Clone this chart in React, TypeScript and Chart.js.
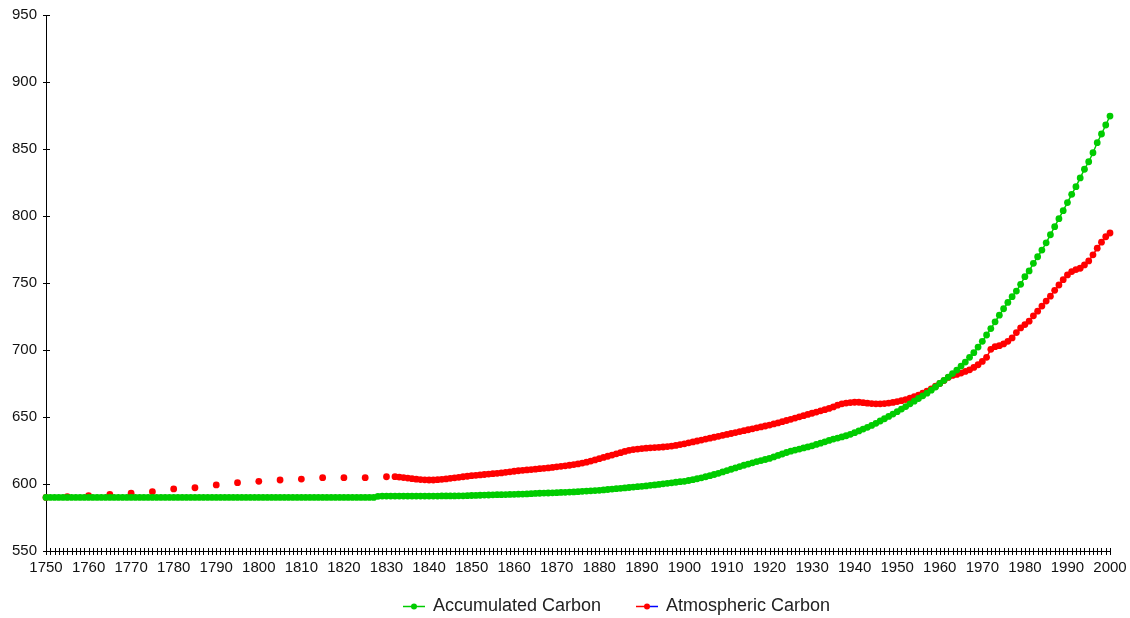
import React, { useEffect, useRef } from "react";
import { Chart, registerables } from "chart.js";

Chart.register(...registerables);

// Categories: every year 1750..2000
const firstYear = 1750;
const lastYear = 2000;
const years: string[] = [];
for (let y = firstYear; y <= lastYear; y++) years.push(String(y));

const yTicks = [550, 600, 650, 700, 750, 800, 850, 900, 950];

const seriesLabels = ["Accumulated Carbon", "Atmospheric Carbon"];

// Accumulated Carbon, yearly 1750..2000
const accumulatedCarbon: number[] = [
  590, 590, 590, 590, 590, 590, 590, 590, 590, 590, // 1750
  590, 590, 590, 590, 590, 590, 590, 590, 590, 590, // 1760
  590, 590, 590, 590, 590, 590, 590, 590, 590, 590, // 1770
  590, 590, 590, 590, 590, 590, 590, 590, 590, 590, // 1780
  590, 590, 590, 590, 590, 590, 590, 590, 590, 590, // 1790
  590, 590, 590, 590, 590, 590, 590, 590, 590, 590, // 1800
  590, 590, 590, 590, 590, 590, 590, 590, 590, 590, // 1810
  590, 590, 590, 590, 590, 590, 590, 590, 590.8, 591, // 1820
  591, 591, 591, 591, 591, 591, 591, 591, 591, 591, // 1830
  591, 591, 591, 591.1, 591.1, 591.1, 591.1, 591.2, 591.2, 591.3, // 1840
  591.4, 591.5, 591.6, 591.7, 591.8, 591.9, 592, 592, 592.1, 592.2, // 1850
  592.3, 592.4, 592.5, 592.6, 592.8, 593, 593.1, 593.2, 593.3, 593.4, // 1860
  593.5, 593.7, 593.8, 594, 594.1, 594.3, 594.5, 594.7, 594.9, 595.1, // 1870
  595.3, 595.6, 595.9, 596.2, 596.5, 596.8, 597.1, 597.4, 597.7, 598, // 1880
  598.3, 598.6, 599, 599.3, 599.7, 600.1, 600.5, 600.9, 601.3, 601.7, // 1890
  602, 602.6, 603.2, 603.9, 604.6, 605.4, 606.2, 607.1, 608, 609, // 1900
  610, 611, 612, 613, 614, 614.9, 615.8, 616.7, 617.5, 618.3, // 1910
  619.1, 620.2, 621.3, 622.4, 623.5, 624.5, 625.3, 626.1, 626.9, 627.7, // 1920
  628.5, 629.5, 630.5, 631.5, 632.5, 633.5, 634.3, 635.1, 636, 637.1, // 1930
  638.3, 639.6, 641, 642.3, 643.7, 645.3, 647, 648.7, 650.4, 652.2, // 1940
  654, 655.9, 657.8, 659.8, 661.8, 663.8, 665.8, 667.8, 670, 672.4, // 1950
  675, 677.4, 679.8, 682.4, 685, 688, 691, 694.5, 698, 702.2, // 1960
  706.5, 711.2, 716, 721, 726, 730.8, 735.5, 739.8, 744, 749, // 1970
  754.7, 759, 764.7, 769.6, 774.6, 780, 786, 792, 798, 804, // 1980
  810, 816.2, 821.9, 828.4, 834.9, 840.5, 847.2, 854.7, 861.2, 867.9, // 1990
  874.6, // 2000
];

// Atmospheric Carbon: every 5 years 1750..1830, then yearly 1832..2000
const atmosphericEarlyYears: number[] = [
  1750, 1755, 1760, 1765, 1770, 1775, 1780, 1785, 1790, 1795, 1800, 1805, 1810, 1815, 1820, 1825, 1830,
];
const atmosphericEarly: number[] = [
  590, 590.5, 591.3, 592.2, 593.1, 594.3, 596.3, 597.2, 599.3, 601, 602, 603, 603.7, 604.7, 604.7, 604.7, 605.4,
];
const atmosphericYearlyStart = 1832;
const atmosphericYearly: number[] = [
  605.5, 605.2, 604.8, 604.4, 604, 603.6, 603.3, 603.1, // 1832-1839
  603, 603, 603.2, 603.5, 603.8, 604.2, 604.6, 605, 605.4, 605.8, // 1840
  606.2, 606.5, 606.8, 607.1, 607.4, 607.7, 608, 608.3, 608.7, 609.1, // 1850
  609.5, 609.9, 610.2, 610.5, 610.8, 611.1, 611.4, 611.7, 612, 612.4, // 1860
  612.8, 613.2, 613.6, 614, 614.5, 615, 615.6, 616.3, 617.1, 618, // 1870
  618.9, 619.8, 620.7, 621.6, 622.5, 623.4, 624.3, 625.1, 625.7, 626.1, // 1880
  626.4, 626.7, 627, 627.2, 627.4, 627.6, 627.9, 628.3, 628.8, 629.4, // 1890
  630, 630.7, 631.4, 632.1, 632.8, 633.5, 634.2, 634.9, 635.6, 636.3, // 1900
  637, 637.7, 638.4, 639.1, 639.8, 640.5, 641.2, 641.9, 642.6, 643.3, // 1910
  644, 644.8, 645.6, 646.5, 647.4, 648.3, 649.2, 650.1, 651, 651.9, // 1920
  652.8, 653.7, 654.6, 655.5, 656.4, 657.5, 658.8, 659.8, 660.4, 660.8, // 1930
  661, 661, 660.7, 660.3, 660, 659.8, 659.8, 660, 660.4, 660.9, // 1940
  661.5, 662.2, 663, 664, 665.2, 666.3, 667.8, 669.3, 671, 673, // 1950
  675, 677.2, 679.5, 681, 681.8, 682.8, 684, 685.2, 687, 689, // 1960
  691.5, 694.5, 700.5, 702.5, 703.2, 704.5, 706.5, 709, 713, 716.5, // 1970
  719, 721.5, 725.5, 729, 732.8, 736.5, 740.2, 744.5, 748.5, 752.5, // 1980
  756, 758.5, 760, 761, 763.5, 766.5, 771, 776, 780.5, 784.5, // 1990
  787.3, // 2000
];

const GREEN = "#00cc00";
const RED = "#ff0000";
const FONT = "'Liberation Sans', Arial, sans-serif";

export default function App() {
  const canvasRef = useRef<HTMLCanvasElement | null>(null);

  useEffect(() => {
    document.body.style.margin = "0";
    const canvas = canvasRef.current;
    if (!canvas) return;

    const accData = accumulatedCarbon.map((v, i) => ({ x: years[i], y: v }));
    const atmData = [
      ...atmosphericEarly.map((v, i) => ({ x: String(atmosphericEarlyYears[i]), y: v })),
      ...atmosphericYearly.map((v, i) => ({ x: String(atmosphericYearlyStart + i), y: v })),
    ];

    const axesPlugin = {
      id: "crossAxes",
      beforeDatasetsDraw(chart: any) {
        const { ctx, chartArea, scales } = chart;
        const xs = scales.x;
        const ys = scales.y;
        ctx.save();
        ctx.strokeStyle = "#000";
        ctx.lineWidth = 1;
        const ax = Math.round(chartArea.left) + 0.5;
        const ay = Math.round(chartArea.bottom) + 0.5;
        ctx.beginPath();
        ctx.moveTo(ax, Math.round(chartArea.top));
        ctx.lineTo(ax, ay);
        ctx.lineTo(Math.round(chartArea.right) + 1, ay);
        ctx.stroke();
        ctx.beginPath();
        for (const t of yTicks) {
          const py = Math.round(ys.getPixelForValue(t)) + 0.5;
          ctx.moveTo(ax - 3.5, py);
          ctx.lineTo(ax + 3.5, py);
        }
        for (let i = 0; i < years.length; i++) {
          const px = Math.round(xs.getPixelForValue(i)) + 0.5;
          ctx.moveTo(px, ay - 3.5);
          ctx.lineTo(px, ay + 3.5);
        }
        ctx.stroke();
        ctx.restore();
      },
      afterDraw(chart: any) {
        const { ctx } = chart;
        const items = [
          { label: seriesLabels[0], color: GREEN, right: GREEN, x: 403 },
          { label: seriesLabels[1], color: RED, right: "#0000ff", x: 636 },
        ];
        const y = 606.5;
        ctx.save();
        for (const it of items) {
          ctx.lineWidth = 1.5;
          ctx.strokeStyle = it.color;
          ctx.beginPath();
          ctx.moveTo(it.x, y);
          ctx.lineTo(it.x + 11, y);
          ctx.stroke();
          ctx.strokeStyle = it.right;
          ctx.beginPath();
          ctx.moveTo(it.x + 11, y);
          ctx.lineTo(it.x + 22, y);
          ctx.stroke();
          ctx.fillStyle = it.color;
          ctx.beginPath();
          ctx.arc(it.x + 11, y, 3, 0, Math.PI * 2);
          ctx.fill();
          ctx.fillStyle = "#222";
          ctx.font = `18px ${FONT}`;
          ctx.textBaseline = "middle";
          ctx.textAlign = "left";
          ctx.fillText(it.label, it.x + 30, y);
        }
        ctx.restore();
      },
    };

    const chart = new Chart(canvas, {
      type: "line",
      data: {
        labels: years,
        datasets: [
          {
            label: seriesLabels[0],
            data: accData as any,
            borderColor: GREEN,
            backgroundColor: GREEN,
            pointBackgroundColor: GREEN,
            pointBorderColor: GREEN,
            pointRadius: 3.4,
            pointBorderWidth: 0,
            borderWidth: 1.5,
            tension: 0,
          },
          {
            label: seriesLabels[1],
            data: atmData as any,
            borderColor: RED,
            backgroundColor: RED,
            pointBackgroundColor: RED,
            pointBorderColor: RED,
            pointRadius: 3.4,
            pointBorderWidth: 0,
            borderWidth: 1.5,
            tension: 0,
            segment: {
              borderColor: (c: any) =>
                c.p1.parsed.x - c.p0.parsed.x > 1 ? "rgba(0,0,0,0)" : RED,
            },
          },
        ],
      },
      options: {
        animation: false,
        responsive: false,
        devicePixelRatio: 1,
        layout: { padding: { left: 0, right: 20, top: 15, bottom: 35 } },
        plugins: {
          legend: { display: false },
          tooltip: { enabled: false },
        },
        scales: {
          x: {
            type: "category",
            offset: false,
            grid: { display: false, drawTicks: false },
            border: { display: false },
            ticks: {
              autoSkip: false,
              maxRotation: 0,
              minRotation: 0,
              padding: 8,
              color: "#111",
              font: { family: FONT, size: 15 },
              callback: (_v: any, i: number) =>
                Number(years[i]) % 10 === 0 ? years[i] : "",
            },
            afterFit: (s: any) => {
              s.height = 32;
              s.paddingLeft = 0;
              s.paddingRight = 0;
            },
          },
          y: {
            min: 550,
            max: 950,
            grid: { display: false, drawTicks: false },
            border: { display: false },
            ticks: {
              stepSize: 50,
              padding: 9,
              color: "#111",
              font: { family: FONT, size: 15 },
            },
            afterFit: (s: any) => {
              s.width = 46;
              s.paddingTop = 0;
              s.paddingBottom = 0;
            },
          },
        },
      },
      plugins: [axesPlugin],
    });

    return () => chart.destroy();
  }, []);

  return (
    <div style={{ width: 1130, height: 618, background: "#fff" }}>
      <canvas ref={canvasRef} width={1130} height={618} style={{ display: "block" }} />
    </div>
  );
}
